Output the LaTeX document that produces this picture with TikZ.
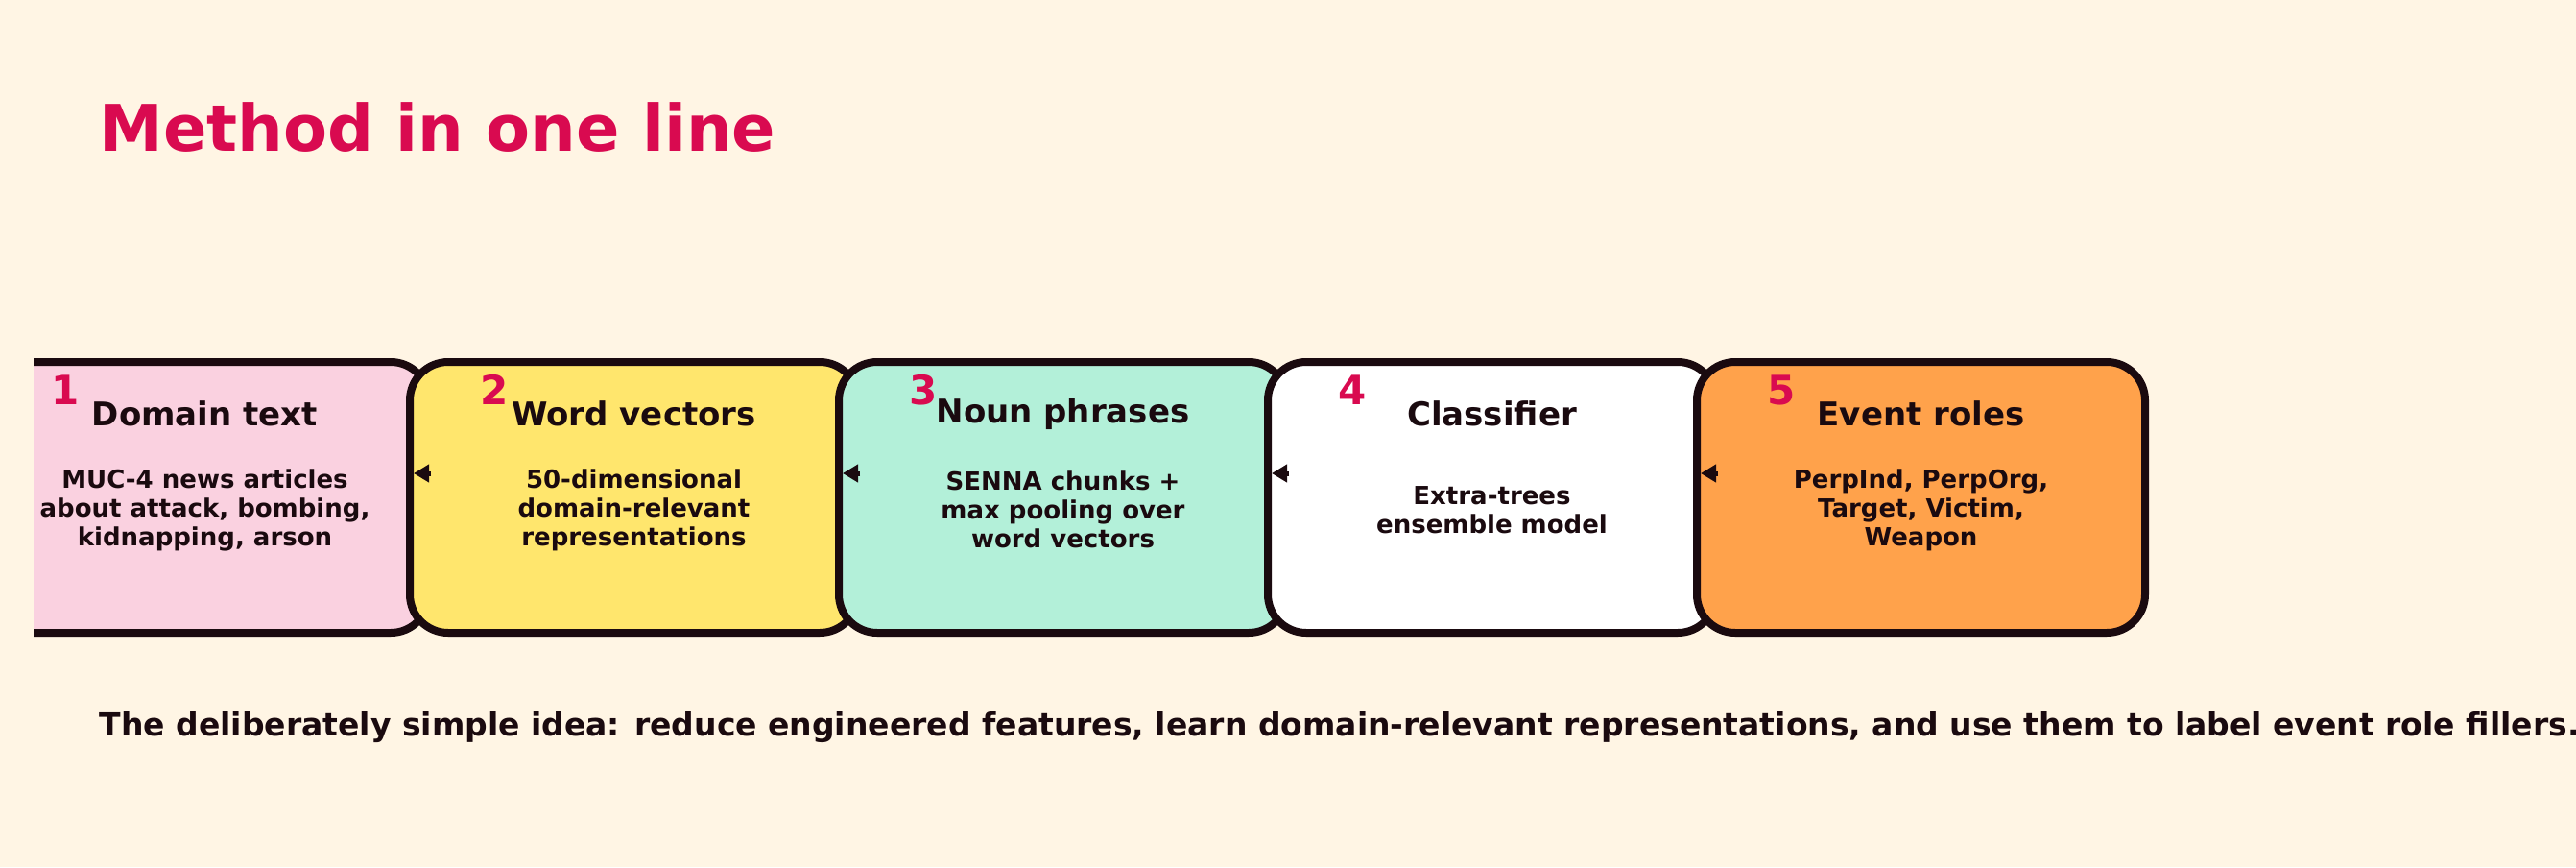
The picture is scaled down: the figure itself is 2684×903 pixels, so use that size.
\documentclass[tikz,border=0pt]{standalone}
\usepackage{fontspec}
\setmainfont{DejaVu Sans}
\usetikzlibrary{arrows.meta}
\definecolor{bg}{HTML}{FFF5E4}
\definecolor{accent}{HTML}{D90A50}
\definecolor{ink}{HTML}{1A0A0F}
\definecolor{cpink}{HTML}{FAD1E0}
\definecolor{cyellow}{HTML}{FFE66D}
\definecolor{cmint}{HTML}{B3F0D9}
\definecolor{corange}{HTML}{FFA24B}
\tikzset{
  box/.style={draw=ink,line width=8pt,rounded corners=40pt,minimum width=467pt,minimum height=282pt,inner sep=0pt},
  num/.style={text=accent,font=\fontsize{42}{42}\selectfont\bfseries},
  ttl/.style={text=ink,font=\fontsize{34}{40}\selectfont\bfseries},
  body/.style={text=ink,font=\fontsize{26}{30}\selectfont\bfseries,align=center},
  arr/.style={-{Triangle[length=16pt,width=18pt]},line width=5pt,draw=ink}
}
\begin{document}
\begin{tikzpicture}[x=1pt,y=-1pt]
\fill[bg] (0,0) rectangle (2684,903);
\useasboundingbox (0,0) rectangle (2684,903);
\node[anchor=west,text=accent,font=\fontsize{67}{70}\selectfont\bfseries] (title) at (100,133) {Method in one line};
\begin{scope}
\clip (35,0) rectangle (2684,903);
\node[box,fill=cpink] (b1) at (213.5,518) {};
\end{scope}
\node[box,fill=cyellow] (b2) at (660.5,518) {};
\node[box,fill=cmint] (b3) at (1107.5,518) {};
\node[box,fill=white] (b4) at (1554.5,518) {};
\node[box,fill=corange] (b5) at (2001.5,518) {};
\foreach \i/\t/\b in {1/Domain text/{MUC-4 news articles\\about attack, bombing,\\kidnapping, arson},
  2/Word vectors/{50-dimensional\\domain-relevant\\representations},
  3/Noun phrases/{SENNA chunks +\\max pooling over\\word vectors},
  4/Classifier/{Extra-trees\\ensemble model},
  5/Event roles/{PerpInd, PerpOrg,\\Target, Victim,\\Weapon}}{
  \node[num] (n\i) at ([xshift=92pt,yshift=-33pt]b\i.north west) {\i};
  \node[ttl] (t\i) at ([yshift=-58pt]b\i.north) {\t};
  \node[body] (d\i) at ([yshift=-13pt]b\i.center) {\b};
}
\foreach \i/\j in {2/1,3/2,4/3,5/4}{
  \draw[arr] ([xshift=26pt,yshift=25pt]b\i.west) -- ([xshift=8pt,yshift=25pt]b\i.west);
}
\node[anchor=west,text=ink,font=\fontsize{33}{36}\selectfont\bfseries] (foot) at (100,758) {The deliberately simple idea: reduce engineered features, learn domain-relevant representations, and use them to label event role fillers.};
\end{tikzpicture}
\end{document}
